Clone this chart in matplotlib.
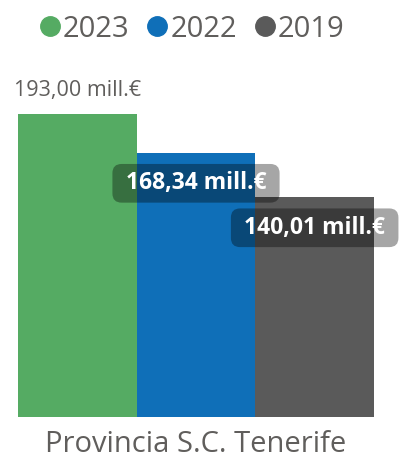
import numpy as np
import matplotlib
matplotlib.use("Agg")
import matplotlib.pyplot as plt
from matplotlib.lines import Line2D

plt.rcParams['font.family'] = ['Open Sans', 'DejaVu Sans']

# data
category = "Provincia S.C. Tenerife"
years = ["2023", "2022", "2019"]
values = [193.00, 168.34, 140.01]
labels = ["193,00 mill.€", "168,34 mill.€", "140,01 mill.€"]
colors = ["#55AB63", "#0F6FB8", "#5A5A5A"]
text_gray = "#605E5C"

fig = plt.figure(figsize=(4.0, 4.59), dpi=100)
ax = fig.add_axes([18 / 400, 42 / 459, 356 / 400, 337.5 / 459])

w = 1 / 3
xs = [(i - 1) * w for i in range(len(values))]
bars = ax.bar(xs, values, width=w, color=colors, linewidth=0)

ax.set_xlim(-0.5, 0.5)
ax.set_ylim(0, 215)
ax.set_yticks([])
ax.set_xticks([0])
ax.set_xticklabels([category], fontsize=21, color=text_gray)
ax.tick_params(axis='x', length=0, pad=9)
for s in ax.spines.values():
    s.set_visible(False)

# top bar: label above
ax.annotate(labels[0], (xs[0], values[0]), xytext=(0, 13), textcoords='offset points',
            ha='center', va='baseline', fontsize=15.5, color=text_gray)
# other bars: label inside with dark translucent box
for x, v, lab in zip(xs[1:], values[1:], labels[1:]):
    ax.annotate(" " + lab + " ", (x, v), xytext=(0, -22), textcoords='offset points',
                ha='center', va='center', fontsize=16.5, fontweight='bold', color='white',
                bbox=dict(boxstyle='round,pad=0.32,rounding_size=0.4', fc=(0, 0, 0, 0.35), ec='none'),
                annotation_clip=False)

handles = [Line2D([], [], marker='o', linestyle='none', markersize=14, color=c) for c in colors]
fig.legend(handles, years, loc='upper center', bbox_to_anchor=(0.48, 1.0), ncol=3, frameon=False,
           fontsize=21, labelcolor=text_gray, handlelength=0.7, handletextpad=0.1,
           columnspacing=0.6, borderaxespad=0.1)

fig.savefig("out.png", dpi=100)
